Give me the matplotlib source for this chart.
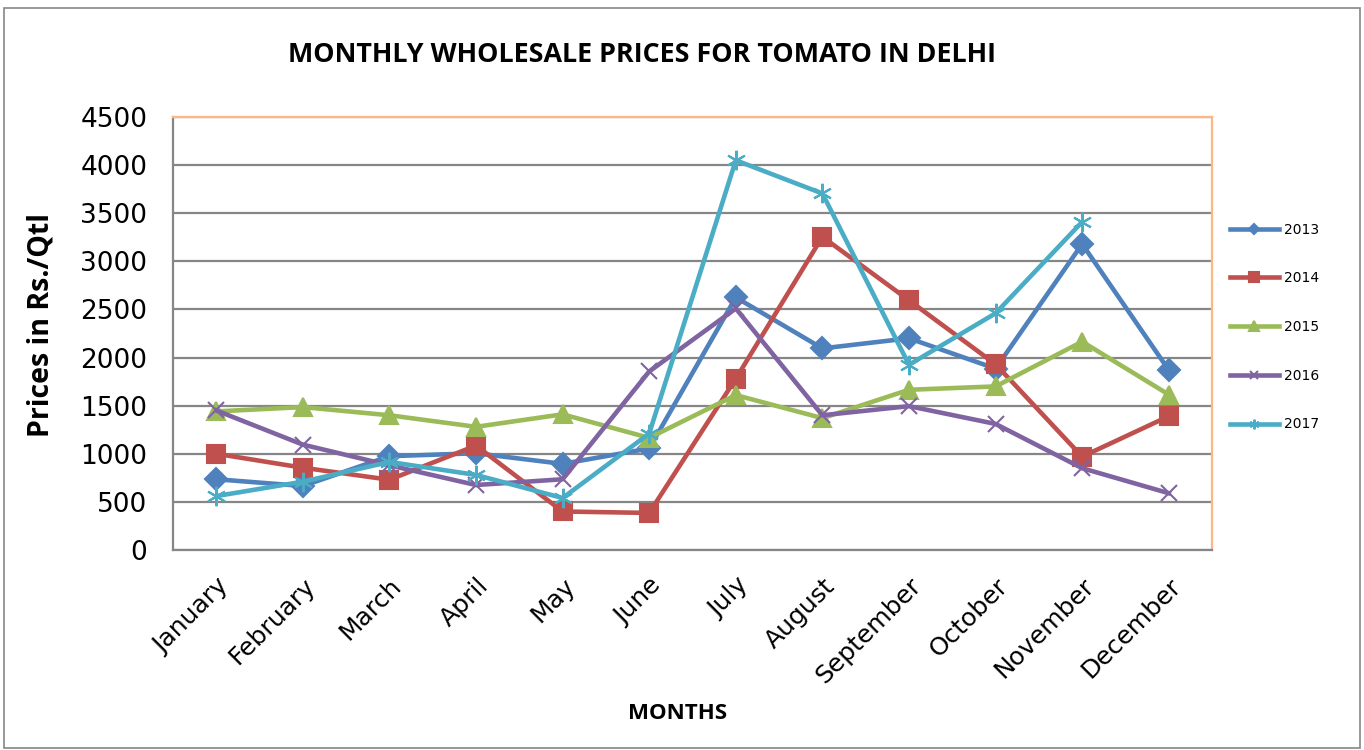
import matplotlib.pyplot as plt
from matplotlib.patches import Rectangle
from matplotlib.transforms import ScaledTranslation

# Data (Rs./Qtl)
months = ['January', 'February', 'March', 'April', 'May', 'June',
          'July', 'August', 'September', 'October', 'November', 'December']
p2013 = [735, 665, 975, 1005, 895, 1055, 2625, 2095, 2200, 1885, 3180, 1870]
p2014 = [1000, 855, 730, 1085, 400, 385, 1780, 3255, 2595, 1930, 970, 1390]
p2015 = [1440, 1485, 1400, 1280, 1410, 1165, 1610, 1370, 1665, 1700, 2165, 1615]
p2016 = [1450, 1095, 880, 675, 735, 1855, 2510, 1400, 1495, 1310, 850, 590]
p2017 = [560, 710, 915, 780, 540, 1210, 4050, 3705, 1925, 2460, 3410, None]

series = [('2013', p2013, '#4F81BD', 'D', 11),
          ('2014', p2014, '#C0504D', 's', 13),
          ('2015', p2015, '#9BBB59', '^', 13),
          ('2016', p2016, '#8064A2', 'x', 11),
          ('2017', p2017, '#4BACC6', (6, 2, 0), 14)]

fig = plt.figure(figsize=(13.64, 7.5), dpi=100)
ax = fig.add_axes([0.1268, 0.2667, 0.7618, 0.5773])

x = [i + 0.5 for i in range(len(months))]
for name, vals, col, mk, ms in series:
    xs = [xi for xi, v in zip(x, vals) if v is not None]
    ys = [v for v in vals if v is not None]
    ax.plot(xs, ys, color=col, lw=3.3, marker=mk, ms=ms, mew=1.5,
            mec=col, mfc=col, label=name)

ax.set_xlim(0, 12)
ax.set_ylim(0, 4500)
ax.set_yticks(range(0, 4501, 500))
ax.set_xticks(x)
ax.set_xticklabels(months, rotation=45, ha='right', rotation_mode='anchor',
                   fontsize=18, family='DejaVu Sans')
# nudge month labels a little to the left, like the original
shift = ScaledTranslation(-6 / 100, 0, fig.dpi_scale_trans)
for lbl in ax.get_xticklabels():
    lbl.set_transform(lbl.get_transform() + shift)
ax.tick_params(axis='y', labelsize=19, length=0, pad=18.5)
ax.tick_params(axis='x', length=0, pad=17)
ax.grid(axis='y', color='#868686', lw=1.6)
ax.set_axisbelow(True)

for s in ['left', 'bottom']:
    ax.spines[s].set_color('#868686')
    ax.spines[s].set_linewidth(1.6)
for s in ['top', 'right']:
    ax.spines[s].set_color('#FFB584')
    ax.spines[s].set_linewidth(1.6)

fig.text(0.030, 0.567, 'Prices in Rs./Qtl', fontsize=20.5, fontweight='bold',
         family=['Open Sans', 'DejaVu Sans'], rotation=90,
         ha='center', va='center')
fig.text(0.497, 0.049, 'MONTHS', fontsize=16, fontweight='bold',
         family=['Open Sans', 'DejaVu Sans'], ha='center', va='center')
fig.text(0.471, 0.927, 'MONTHLY WHOLESALE PRICES FOR TOMATO IN DELHI',
         fontsize=19.4, fontweight='bold', family=['Open Sans', 'DejaVu Sans'],
         ha='center', va='center')

leg = ax.legend(loc='center left', bbox_to_anchor=(1.0, 0.515), frameon=False,
                fontsize=10, markerscale=0.5, handlelength=3.5,
                handletextpad=0.4, labelspacing=2.5, borderaxespad=0.9)

fig.patches.append(Rectangle((0.003, 0.003), 0.994, 0.987,
                             transform=fig.transFigure, fill=False,
                             ec='#868686', lw=1.2))

fig.savefig('out.png', dpi=100)
